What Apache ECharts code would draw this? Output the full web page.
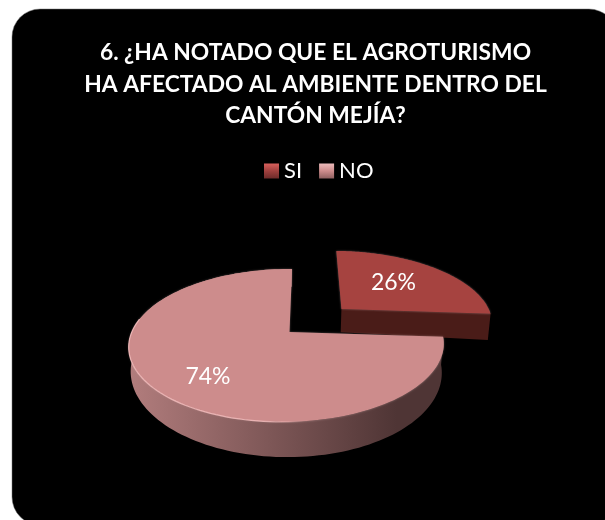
<!DOCTYPE html>
<html>
<head>
<meta charset="utf-8">
<style>html,body{margin:0;padding:0;background:#fff}#c{width:605px;height:520px}</style>
<script src="https://cdn.jsdelivr.net/npm/echarts@6/dist/echarts.min.js"></script>
</head>
<body>
<div id="c"></div>
<script>
const titleLines = ['6. ¿HA NOTADO QUE EL AGROTURISMO', 'HA AFECTADO AL AMBIENTE DENTRO DEL', 'CANTÓN MEJÍA?'];
const categories = ['SI', 'NO'];
const values = [26, 74];
const topColors = ['#a64340', '#cd8c8c'];
const sideColors = [['#4a1c18', '#3f1815'], ['#b27d7d', '#4f3535']];
const legendGrad = [['#d8605c', '#a0403e', '#6e2b2a'], ['#ecbcbc', '#cd8c8c', '#8f6060']];

const chart = echarts.init(document.getElementById('c'), null, {renderer: 'canvas'});
const total = values.reduce((a, b) => a + b, 0);
const P = {cx: 289.5, cy: 332, A: 155, B: 74.1, p: 0.176, q: 0.017, C: 3, explode: 0.48, sliceScale: [1.035, 1]};
function upper(u, v) {
  const w = 1 + P.p * v + P.q * u;
  return [P.cx + (P.A * u + P.C * v) / w, P.cy - P.B * v / w];
}
function lower(u, v) {
  const w = 1 + P.p * v + P.q * u;
  const t = upper(u, v);
  return [t[0] - 2 * u, t[1] + (25 + 3 * u - 4 * v) / w];
}
function slicePaths(index) {
  const start = values.slice(0, index).reduce((a, b) => a + b, 0) / total * Math.PI * 2;
  const end = start + values[index] / total * Math.PI * 2;
  const mid = (start + end) / 2;
  const e = index === 0 ? P.explode : 0;
  const k = P.sliceScale[index];
  const ou = e * Math.sin(mid), ov = e * Math.cos(mid);
  const rim = [], angles = [];
  const steps = 140;
  for (let i = 0; i <= steps; i++) {
    const a = start + (end - start) * i / steps;
    angles.push(a);
    rim.push([ou + k * Math.sin(a), ov + k * Math.cos(a)]);
  }
  return {rim, angles, ou, ov, mid};
}
function renderSlice(index) {
  const s = slicePaths(index);
  const kids = [];
  const rimTop = s.rim.map(q => upper(q[0], q[1]));
  const rimLow = s.rim.map(q => lower(q[0], q[1]));
  const apexT = upper(s.ou, s.ov), apexL = lower(s.ou, s.ov);
  const wall = rimTop.concat(rimLow.slice().reverse());
  if (index === 0) {
    const f = s.rim[s.rim.length - 1];
    kids.push({type: 'polygon', shape: {points: [apexT, upper(f[0], f[1]), lower(f[0], f[1]), apexL]},
      style: {fill: sideColors[0][0]}});
  } else {
    kids.push({type: 'polygon', shape: {points: wall},
      style: {fill: new echarts.graphic.LinearGradient(0, 0, 1, 0, [
        {offset: 0, color: sideColors[1][0]}, {offset: 0.85, color: sideColors[1][1]}, {offset: 1, color: sideColors[1][1]}])}});
  }
  kids.push({type: 'polygon', shape: {points: [apexT].concat(rimTop)},
    style: {fill: topColors[index], shadowBlur: 2, shadowColor: 'rgba(255,210,210,0.4)'}});
  if (index === 1) {
    const glow = rimTop.filter((p, i) => s.angles[i] > 3.0 && s.angles[i] < 4.9);
    kids.push({type: 'polyline', shape: {points: glow},
      style: {fill: 'none', lineWidth: 1.2, stroke: new echarts.graphic.LinearGradient(0, 0, 1, 0, [
        {offset: 0, color: 'rgba(245,190,190,0.85)'}, {offset: 0.75, color: 'rgba(245,190,190,0.85)'}, {offset: 1, color: 'rgba(245,190,190,0)'}])}});
  }
  const labelAt = index === 0 ? [393.5, 283] : [208, 377];
  kids.push({type: 'text', style: {
    text: Math.round(values[index] / total * 100) + '%', x: labelAt[0], y: labelAt[1],
    fill: '#fff', font: '400 23px Lato', textAlign: 'center', textVerticalAlign: 'middle'}});
  return {type: 'group', children: kids};
}
chart.setOption({
  animation: false,
  backgroundColor: '#fff',
  title: {
    text: titleLines.join('\n'), left: 310.5, top: 32, textAlign: 'center',
    textStyle: {color: '#fff', fontFamily: 'Lato', fontWeight: 'bold', fontSize: 22.8, lineHeight: 31.5}
  },
  legend: {
    data: categories, top: 153, left: 259, itemWidth: 15, itemHeight: 15, itemGap: 17,
    icon: 'rect',
    textStyle: {color: '#fff', fontFamily: 'Lato', fontSize: 22, lineHeight: 26, overflow: 'none'}
  },
  graphic: [{type: 'rect', z: -10, silent: true,
    shape: {x: 12, y: 9, width: 605, height: 516, r: 28},
    style: {fill: '#000', stroke: '#777', lineWidth: 0.5}}],
  series: categories.map((name, index) => ({
    type: 'custom', name, coordinateSystem: 'none', z: index === 0 ? 2 : 3,
    data: [values[index]],
    itemStyle: {color: new echarts.graphic.LinearGradient(0, 0, 0, 1, [
      {offset: 0, color: legendGrad[index][0]}, {offset: 0.5, color: legendGrad[index][1]}, {offset: 1, color: legendGrad[index][2]}])},
    renderItem: () => renderSlice(index)
  }))
});
</script>
</body>
</html>
